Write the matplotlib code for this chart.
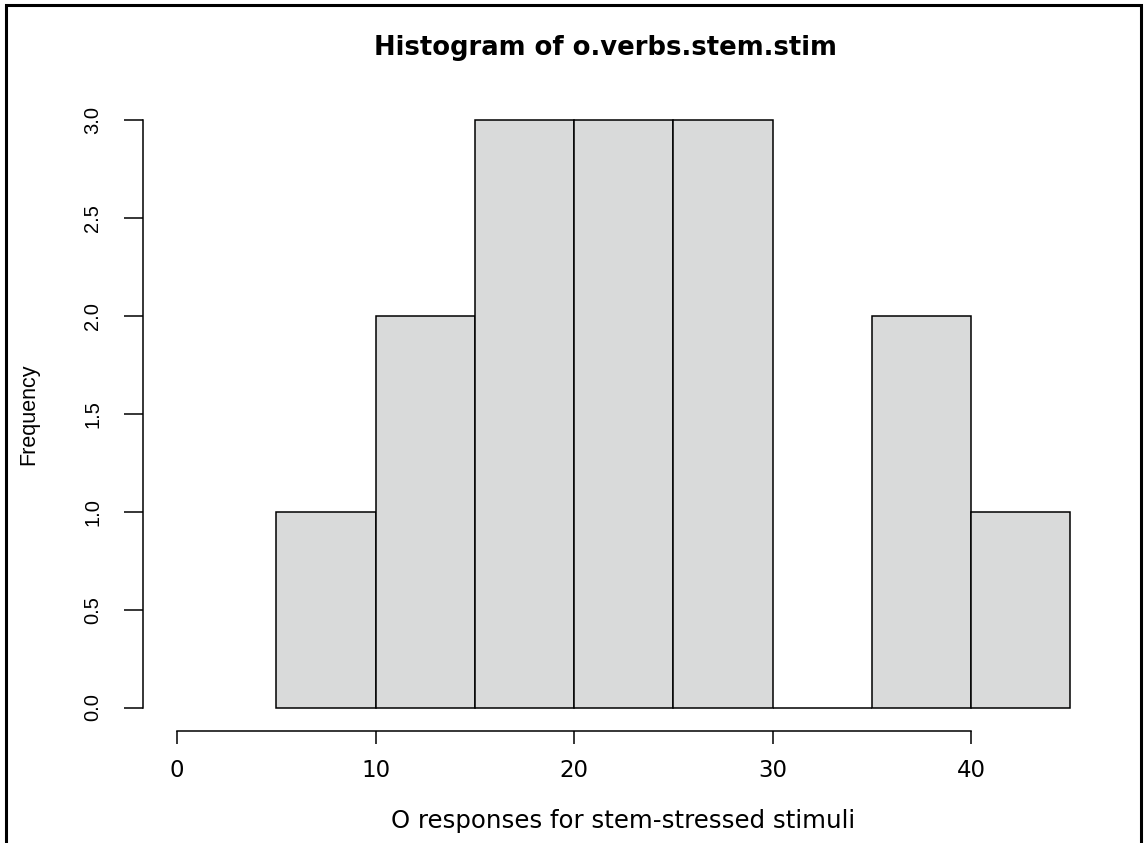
import numpy as np
import matplotlib
matplotlib.use("Agg")
import matplotlib.pyplot as plt
from matplotlib.patches import Rectangle

# histogram data (bins of width 5)
bin_edges = [5, 10, 15, 20, 25, 30, 35, 40, 45]
counts = [1, 2, 3, 3, 3, 0, 2, 1]
x_ticks = [0, 10, 20, 30, 40]
y_ticks = [0.0, 0.5, 1.0, 1.5, 2.0, 2.5, 3.0]

W, H = 1147, 843
fig = plt.figure(figsize=(W / 100, H / 100), dpi=100)
fig.patch.set_facecolor("white")

# plot region in pixels: left 143, right 1106, top 97, bottom 731
ax = fig.add_axes([143 / W, 1 - 731 / H, (1106 - 143) / W, (731 - 97) / H])
ax.set_xlim(-1.72, 46.8)
ax.set_ylim(-0.12, 3.12)

edges = np.array(bin_edges)
ax.bar(edges[:-1], counts, width=np.diff(edges), align="edge",
       color="#d9dada", edgecolor="black", linewidth=1.1, zorder=2)

for s in ["top", "right"]:
    ax.spines[s].set_visible(False)
ax.spines["left"].set_bounds(0, 3)
ax.spines["bottom"].set_bounds(0, 40)
for s in ["left", "bottom"]:
    ax.spines[s].set_linewidth(1.1)

ax.set_xticks(x_ticks)
ax.set_xticklabels([str(t) for t in x_ticks], fontfamily="DejaVu Sans", fontsize=16.5)
ax.set_yticks(y_ticks)
ax.set_yticklabels([f"{t:.1f}" for t in y_ticks], rotation=90, va="center",
                   fontfamily="Liberation Sans", fontsize=14.5)
ax.tick_params(axis="x", length=9.5, width=1.1, pad=11)
ax.tick_params(axis="y", length=13.5, width=1.1, pad=16)

fig.text(605 / W, 1 - 48 / H, "Histogram of o.verbs.stem.stim",
         ha="center", va="center", fontfamily="DejaVu Sans",
         fontweight="bold", fontsize=18.6)
fig.text(623 / W, 1 - 821 / H, "O responses for stem-stressed stimuli",
         ha="center", va="center", fontfamily="DejaVu Sans", fontsize=17.6)
fig.text(29 / W, 1 - 414 / H, "Frequency", rotation=90,
         ha="center", va="center", fontfamily="Liberation Sans", fontsize=15.5)

# outer frame
fig.patches.append(Rectangle((6 / W, -0.01), (1141 - 6) / W, 1.01 - 5 / H,
                             transform=fig.transFigure, fill=False,
                             edgecolor="black", linewidth=2.2))

fig.savefig("out.png", dpi=100)
